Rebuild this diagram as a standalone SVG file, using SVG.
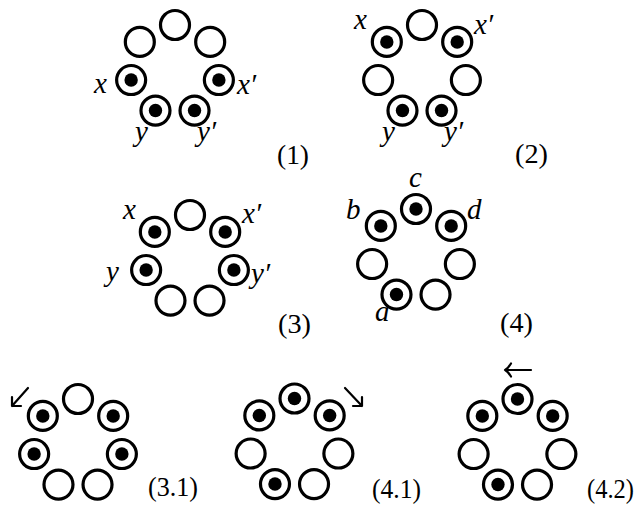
<svg xmlns="http://www.w3.org/2000/svg" width="638" height="508" viewBox="0 0 638 508">
<defs>
<style>
.o{fill:#fff;stroke:#000;stroke-width:3.2}
.d{fill:#000}
.m{font-family:"Liberation Serif","Times New Roman",Times,serif;font-style:italic;font-size:29px;fill:#000}
.t{font-family:"Liberation Serif","Times New Roman",Times,serif;font-size:27px;fill:#000}
.a{fill:none;stroke:#000;stroke-width:2.2;stroke-linecap:round;stroke-linejoin:round}
</style>
<g id="e"><circle class="o" r="14.5"/></g>
<g id="f"><circle class="o" r="14.5"/><circle class="d" r="6.7"/></g>
</defs>
<rect width="638" height="508" fill="#fff"/>

<g id="panel1" transform="translate(175,70)">
<use href="#e" x="0" y="-45"/><use href="#e" x="35.18" y="-28.06"/><use href="#f" x="43.87" y="10.01"/><use href="#f" x="19.52" y="40.54"/><use href="#f" x="-19.52" y="40.54"/><use href="#f" x="-43.87" y="10.01"/><use href="#e" x="-35.18" y="-28.06"/>
</g>
<g id="labels1">
<text class="m" x="94" y="93">x</text><text class="m" x="237" y="94">x′</text><text class="m" x="135" y="141">y</text><text class="m" x="197" y="141">y′</text>
<text class="t" x="277" y="164" textLength="32" lengthAdjust="spacingAndGlyphs">(1)</text>
</g>

<g id="panel2" transform="translate(422,70)">
<use href="#e" x="0" y="-45"/><use href="#f" x="35.18" y="-28.06"/><use href="#e" x="43.87" y="10.01"/><use href="#f" x="19.52" y="40.54"/><use href="#f" x="-19.52" y="40.54"/><use href="#e" x="-43.87" y="10.01"/><use href="#f" x="-35.18" y="-28.06"/>
</g>
<g id="labels2">
<text class="m" x="354" y="29">x</text><text class="m" x="474" y="34">x′</text><text class="m" x="382" y="141">y</text><text class="m" x="444" y="141">y′</text>
<text class="t" x="515" y="163" textLength="33" lengthAdjust="spacingAndGlyphs">(2)</text>
</g>

<g id="panel3" transform="translate(190,260)">
<use href="#e" x="0" y="-45"/><use href="#f" x="35.18" y="-28.06"/><use href="#f" x="43.87" y="10.01"/><use href="#e" x="19.52" y="40.54"/><use href="#e" x="-19.52" y="40.54"/><use href="#f" x="-43.87" y="10.01"/><use href="#f" x="-35.18" y="-28.06"/>
</g>
<g id="labels3">
<text class="m" x="123" y="219">x</text><text class="m" x="242" y="223">x′</text><text class="m" x="106" y="281">y</text><text class="m" x="251" y="283">y′</text>
<text class="t" x="278" y="333" textLength="33" lengthAdjust="spacingAndGlyphs">(3)</text>
</g>

<g id="panel4" transform="translate(416,254)">
<use href="#f" x="0" y="-45"/><use href="#f" x="35.18" y="-28.06"/><use href="#e" x="43.87" y="10.01"/><use href="#e" x="19.52" y="40.54"/><use href="#f" x="-19.52" y="40.54"/><use href="#e" x="-43.87" y="10.01"/><use href="#f" x="-35.18" y="-28.06"/>
</g>
<g id="labels4">
<text class="m" x="409" y="187">c</text><text class="m" x="346" y="219">b</text><text class="m" x="467" y="219">d</text><text class="m" x="375" y="321">a</text>
<text class="t" x="500" y="332" textLength="33" lengthAdjust="spacingAndGlyphs">(4)</text>
</g>

<g id="panel31" transform="translate(78,444)">
<use href="#e" x="0" y="-45"/><use href="#f" x="35.18" y="-28.06"/><use href="#f" x="43.87" y="10.01"/><use href="#e" x="19.52" y="40.54"/><use href="#e" x="-19.52" y="40.54"/><use href="#f" x="-43.87" y="10.01"/><use href="#f" x="-35.18" y="-28.06"/>
</g>
<g id="panel41" transform="translate(294.5,443.5)">
<use href="#f" x="0" y="-45"/><use href="#f" x="35.18" y="-28.06"/><use href="#e" x="43.87" y="10.01"/><use href="#e" x="19.52" y="40.54"/><use href="#f" x="-19.52" y="40.54"/><use href="#e" x="-43.87" y="10.01"/><use href="#f" x="-35.18" y="-28.06"/>
</g>
<g id="panel42" transform="translate(517.5,444)">
<use href="#f" x="0" y="-45"/><use href="#f" x="35.18" y="-28.06"/><use href="#e" x="43.87" y="10.01"/><use href="#e" x="19.52" y="40.54"/><use href="#f" x="-19.52" y="40.54"/><use href="#e" x="-43.87" y="10.01"/><use href="#f" x="-35.18" y="-28.06"/>
</g>
<g id="labelsBottom">
<text class="t" x="148" y="496" textLength="50" lengthAdjust="spacingAndGlyphs">(3.1)</text>
<text class="t" x="372" y="498" textLength="49" lengthAdjust="spacingAndGlyphs">(4.1)</text>
<text class="t" x="587" y="498" textLength="47" lengthAdjust="spacingAndGlyphs">(4.2)</text>
</g>

<g id="connectors">
<path class="a" d="M28,388 L12,406 M12,397 L12,406 L21,406"/>
<path class="a" d="M345,388 L362,406 M353,406 L362,406 L362,397"/>
<path class="a" d="M531,370 L505,370 M511,363.5 Q508,368.5 505,370 Q508,371.5 511,376.5"/>
</g>
</svg>
